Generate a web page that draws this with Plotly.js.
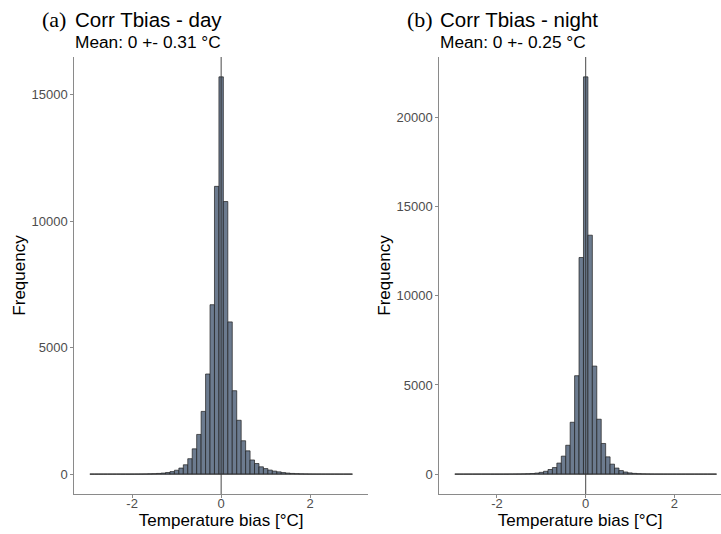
<!DOCTYPE html>
<html>
<head>
<meta charset="utf-8">
<script src="https://cdn.plot.ly/plotly-3.0.1.min.js"></script>
<style>html,body{margin:0;padding:0;background:#fff;}#plot{width:721px;height:534px;}</style>
</head>
<body>
<div id="plot"></div>
<script>
// Bin centres (°C), bin width 0.1
const binCenters = [-2.9,-2.8,-2.7,-2.6,-2.5,-2.4,-2.3,-2.2,-2.1,-2.0,-1.9,-1.8,-1.7,-1.6,-1.5,-1.4,-1.3,-1.2,-1.1,-1.0,
  -0.9,-0.8,-0.7,-0.6,-0.5,-0.4,-0.3,-0.2,-0.1,0.0,0.1,0.2,0.3,0.4,0.5,0.6,0.7,0.8,0.9,1.0,
  1.1,1.2,1.3,1.4,1.5,1.6,1.7,1.8,1.9,2.0,2.1,2.2,2.3,2.4,2.5,2.6,2.7,2.8,2.9];
const binWidth = 0.1;

// (a) day counts
const dayCounts = [0,0,0,0,0,0,0,1,1,2,3,5,8,12,18,28,42,65,100,155,
  240,370,610,1000,1570,2480,3960,6700,11380,15710,10780,6020,3300,2130,1320,920,560,420,290,220,
  160,120,90,62,42,28,18,12,8,5,3,2,1,1,0,0,0,0,0];

// (b) night counts
const nightCounts = [0,0,0,0,0,0,0,0,1,1,2,3,5,7,10,15,22,35,60,100,
  160,260,370,620,1010,1620,2910,5520,12150,22280,13400,6060,3080,1720,970,560,340,200,120,70,
  42,25,15,10,6,4,3,2,1,1,0,0,0,0,0,0,0,0,0];

const panelLabels = ["(a)", "(b)"];
const panelTitles = ["Corr Tbias - day", "Corr Tbias - night"];
const panelSubtitles = ["Mean: 0 +- 0.31 °C", "Mean: 0 +- 0.25 °C"];
const xTitle = "Temperature bias [°C]";
const yTitle = "Frequency";
const xTickVals = [-2, 0, 2];
const yTickVals = [[0, 5000, 10000, 15000], [0, 5000, 10000, 15000, 20000]];

const W = 721, H = 534;
const sans = "Liberation Sans, Arial, sans-serif";
const serif = "Liberation Serif, Times New Roman, serif";
const fillCol = "#6c7b8f";
const edgeCol = "#1e1e1e";
const axisCol = "#8a8a8a";
const tickTextCol = "#4d4d4d";

const lo = binCenters[0] - binWidth / 2;
const hi = binCenters[binCenters.length - 1] + binWidth / 2;

function barTrace(counts, xa, ya) {
  return {type: "bar", x: binCenters, y: counts, xaxis: xa, yaxis: ya,
    marker: {color: fillCol, line: {color: edgeCol, width: 0.7}},
    hoverinfo: "x+y", showlegend: false};
}
function baseTrace(xa, ya) {
  return {type: "scatter", mode: "lines", x: [lo, hi], y: [0, 0], xaxis: xa, yaxis: ya,
    line: {color: "#333", width: 0.8}, hoverinfo: "skip", showlegend: false};
}

const maxA = Math.max(...dayCounts), maxB = Math.max(...nightCounts);

// pixel geometry
const yTop = 57, yBot = 494;
const yDom = [1 - yBot / H, 1 - yTop / H];
const axA = [74.3, 368], axB = [439.3, 721];

function xaxis(dom, range) {
  return {domain: [dom[0] / W, dom[1] / W], range: range, showgrid: false, zeroline: false,
    showline: true, linecolor: axisCol, linewidth: 1, ticks: "outside", ticklen: 3, tickwidth: 1,
    tickcolor: axisCol, tickvals: xTickVals, ticktext: xTickVals.map(v => v < 0 ? "-" + Math.abs(v) : String(v)),
    tickfont: {family: sans, size: 13, color: tickTextCol}, automargin: false, ticklabelstandoff: -6,
    title: {text: xTitle, font: {family: sans, size: 17, color: "#000"}, standoff: 2}};
}
function yaxis(anchor, max, tv) {
  return {domain: yDom, range: [-0.05 * max, 1.05 * max], anchor: anchor, showgrid: false, zeroline: false,
    showline: true, linecolor: axisCol, linewidth: 1, ticks: "outside", ticklen: 3, tickwidth: 1,
    tickcolor: axisCol, tickvals: tv, ticktext: tv.map(String),
    tickfont: {family: sans, size: 13, color: tickTextCol}, automargin: false,
    title: {text: yTitle, font: {family: sans, size: 17, color: "#000"}, standoff: 1}};
}

const data = [
  barTrace(dayCounts, "x", "y"), baseTrace("x", "y"),
  barTrace(nightCounts, "x2", "y2"), baseTrace("x2", "y2")
];

const annotations = [];
[[axA, 0], [axB, 1]].forEach(([ax, i]) => {
  annotations.push({xref: "paper", yref: "paper", x: (ax[0] - 34) / W, y: 1 - 20 / H, xanchor: "left", yanchor: "middle",
    text: panelLabels[i], showarrow: false, font: {family: serif, size: 22, color: "#000"}});
  annotations.push({xref: "paper", yref: "paper", x: (ax[0] - 1) / W, y: 1 - 20 / H, xanchor: "left", yanchor: "middle",
    text: panelTitles[i], showarrow: false, font: {family: sans, size: 20.5, color: "#000"}});
  annotations.push({xref: "paper", yref: "paper", x: (ax[0] - 1) / W, y: 1 - 41.5 / H, xanchor: "left", yanchor: "middle",
    text: panelSubtitles[i], showarrow: false, font: {family: sans, size: 17.3, color: "#000"}});
});

const layout = {
  width: W, height: H, margin: {l: 0, r: 0, t: 0, b: 0},
  paper_bgcolor: "#fff", plot_bgcolor: "#fff", bargap: 0, showlegend: false,
  xaxis: xaxis(axA, [-3.3, 3.3]),
  yaxis: yaxis("x", maxA, yTickVals[0]),
  xaxis2: Object.assign(xaxis(axB, [-3.3, 3.05]), {anchor: "y2"}),
  yaxis2: yaxis("x2", maxB, yTickVals[1]),
  shapes: [
    {type: "line", xref: "x", yref: "y domain", x0: 0, x1: 0, y0: 0, y1: 1, line: {color: "#333", width: 0.9}, layer: "above"},
    {type: "line", xref: "x2", yref: "y2 domain", x0: 0, x1: 0, y0: 0, y1: 1, line: {color: "#333", width: 0.9}, layer: "above"}
  ],
  annotations: annotations
};
layout.xaxis.anchor = "y";

Plotly.newPlot("plot", data, layout, {staticPlot: true, displayModeBar: false});
</script>
</body>
</html>
